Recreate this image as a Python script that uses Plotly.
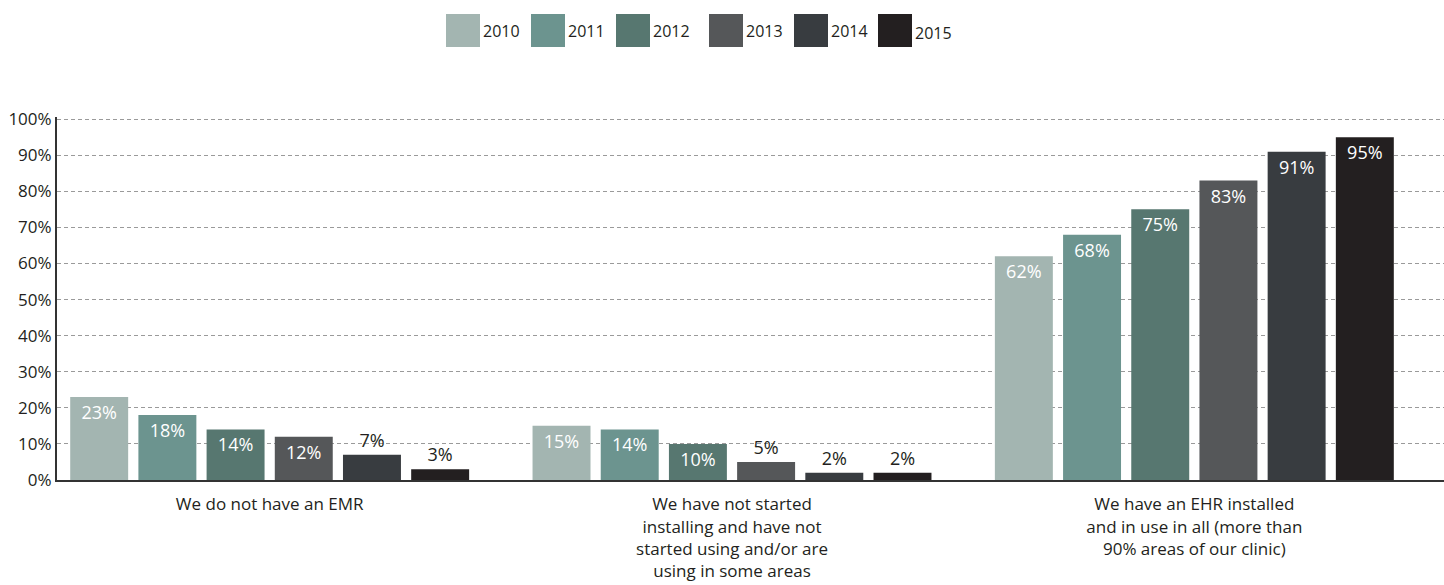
import plotly.graph_objects as go

categories = [
    "We do not have an EMR",
    "We have not started<br>installing and have not<br>started using and/or are<br>using in some areas",
    "We have an EHR installed<br>and in use in all (more than<br>90% areas of our clinic)",
]
years = ["2010", "2011", "2012", "2013", "2014", "2015"]
v2010 = [23, 15, 62]
v2011 = [18, 14, 68]
v2012 = [14, 10, 75]
v2013 = [12, 5, 83]
v2014 = [7, 2, 91]
v2015 = [3, 2, 95]
series = [v2010, v2011, v2012, v2013, v2014, v2015]
y_ticks = list(range(0, 101, 10))

colors = ["#a3b5b1", "#6c948f", "#577770", "#555759", "#383c40", "#231f20"]
FONT = "Open Sans"
TXT = "#231f20"

W, H = 1444, 585
L, R, T, B = 57, 0, 117, 105
pw, ph = W - L - R, H - T - B


def px_x(x):
    return (x - L) / pw


def px_y(y):
    return (H - B - y) / ph


fig = go.Figure()
for yr, vals, c in zip(years, series, colors):
    pos = ["inside" if v >= 10 else "outside" for v in vals]
    fig.add_trace(go.Bar(
        name=yr, x=categories, y=vals, marker_color=c, marker_line_width=0,
        text=[f"{v}%" for v in vals], textposition=pos,
        insidetextanchor="end",
        insidetextfont=dict(color="white", size=18, family=FONT),
        outsidetextfont=dict(color=TXT, size=18, family=FONT),
        textangle=0, cliponaxis=False, showlegend=False,
    ))

# legend drawn as large squares + labels
legend_x = [446, 531, 616, 709, 794, 878]
for i, (yr, c) in enumerate(zip(years, colors)):
    x0 = legend_x[i]
    fig.add_shape(type="rect", xref="paper", yref="paper",
                  x0=px_x(x0), x1=px_x(x0 + 34), y0=px_y(47), y1=px_y(14),
                  fillcolor=c, line_width=0)
    fig.add_annotation(xref="paper", yref="paper", x=px_x(x0 + 35),
                       y=px_y(31 if i < 5 else 33), text=yr, showarrow=False,
                       xanchor="left", yanchor="middle",
                       font=dict(size=16, color=TXT, family=FONT))

fig.update_layout(
    width=W, height=H,
    margin=dict(l=L, r=R, t=T, b=B, autoexpand=False),
    plot_bgcolor="white", paper_bgcolor="white",
    barmode="group", bargap=0.115, bargroupgap=0.15,
    font=dict(family=FONT, color=TXT, size=17),
)
fig.update_yaxes(
    range=[0, 100.6], tickvals=y_ticks, ticktext=[f"{t}%" for t in y_ticks],
    showgrid=True, gridcolor="#9a9a9a", griddash="4px,3px", gridwidth=1,
    showline=True, linecolor="#333333", linewidth=2, zeroline=False,
    ticks="", tickfont=dict(size=17), ticklabelstandoff=0, automargin=False,
)
fig.update_xaxes(
    range=[-0.46, 2.54],
    showline=True, linecolor="#333333", linewidth=2,
    ticks="", tickfont=dict(size=17), ticklabelstandoff=8, automargin=False,
)

fig.write_html("out.html", config={"displayModeBar": False},
               post_script="document.body.style.margin='0';")
